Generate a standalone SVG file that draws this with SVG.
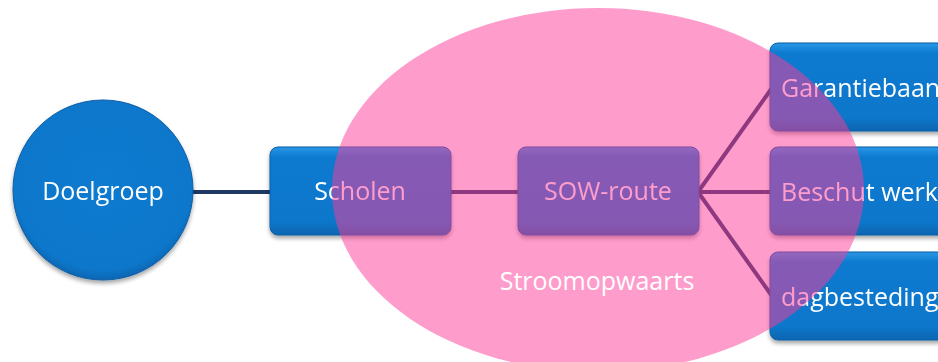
<svg xmlns="http://www.w3.org/2000/svg" width="938" height="362" viewBox="0 0 938 362">
<defs>
<style>
.lbl{font-family:"Open Sans","Noto Sans",sans-serif;font-size:25px;fill:#ffffff}
.box{fill:url(#bg);stroke:#0a5ea8;stroke-width:1}
.ln{stroke:#1f3864;stroke-width:4;fill:none}
</style>
<linearGradient id="bg" x1="0" y1="0" x2="0" y2="1">
<stop offset="0" stop-color="#2b96e4"/>
<stop offset="0.12" stop-color="#0a7ad0"/>
<stop offset="0.85" stop-color="#0877cb"/>
<stop offset="1" stop-color="#0865b0"/>
</linearGradient>
<radialGradient id="cg" cx="0.5" cy="0.45" r="0.55">
<stop offset="0" stop-color="#0a7bd0"/>
<stop offset="0.9" stop-color="#0877cb"/>
<stop offset="1" stop-color="#0866b2"/>
</radialGradient>
<filter id="sh" x="-10%" y="-10%" width="120%" height="130%">
<feGaussianBlur in="SourceAlpha" stdDeviation="2"/>
<feOffset dy="3"/>
<feComponentTransfer><feFuncA type="linear" slope="0.35"/></feComponentTransfer>
<feMerge><feMergeNode/><feMergeNode in="SourceGraphic"/></feMerge>
</filter>
</defs>
<rect width="938" height="362" fill="#ffffff"/>
<g id="connectors">
<line class="ln" x1="190" y1="192" x2="272" y2="192"/>
<line class="ln" x1="450" y1="192" x2="520" y2="192"/>
<line class="ln" x1="698" y1="192" x2="772" y2="88"/>
<line class="ln" x1="698" y1="192" x2="772" y2="192"/>
<line class="ln" x1="698" y1="192" x2="772" y2="296"/>
</g>
<g id="doelgroep" filter="url(#sh)">
<circle cx="103" cy="190" r="90" fill="url(#cg)" stroke="#0a5ea8"/>
<text class="lbl" x="103" y="200" text-anchor="middle">Doelgroep</text>
</g>
<g id="scholen" filter="url(#sh)">
<rect class="box" x="270" y="147" width="181" height="88" rx="8"/>
<text class="lbl" x="360" y="200" text-anchor="middle">Scholen</text>
</g>
<g id="sow-route" filter="url(#sh)">
<rect class="box" x="518" y="147" width="181" height="88" rx="8"/>
<text class="lbl" x="608" y="200" text-anchor="middle">SOW-route</text>
</g>
<g id="garantiebaan" filter="url(#sh)">
<rect class="box" x="770" y="43" width="200" height="88" rx="8"/>
<text class="lbl" x="781" y="97">Garantiebaan</text>
</g>
<g id="beschut-werk" filter="url(#sh)">
<rect class="box" x="770" y="147" width="200" height="88" rx="8"/>
<text class="lbl" x="781" y="201">Beschut werk</text>
</g>
<g id="dagbesteding" filter="url(#sh)">
<rect class="box" x="770" y="252" width="200" height="88" rx="8"/>
<text class="lbl" x="781" y="306">dagbesteding</text>
</g>
<g id="stroomopwaarts">
<ellipse cx="598" cy="190" rx="266" ry="182" fill="#fd3999" fill-opacity="0.5"/>
<text class="lbl" x="597" y="290" text-anchor="middle">Stroomopwaarts</text>
</g>
</svg>
